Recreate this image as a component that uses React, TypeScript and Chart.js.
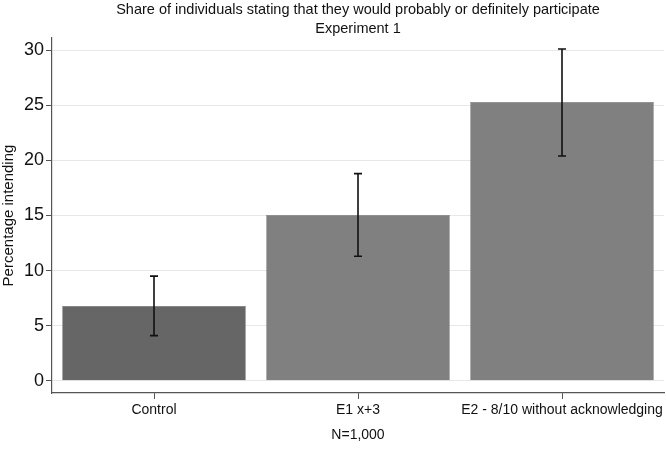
import React, { useEffect, useRef } from "react";
import { Chart, registerables } from "chart.js";
Chart.register(...registerables);

const categories = ["Control", "E1 x+3", "E2 - 8/10 without acknowledging"];
const values = [6.8, 15.05, 25.3];
const lowerCI = [4.1, 11.3, 20.4];
const upperCI = [9.5, 18.8, 30.1];
const barColors = ["#666666", "#808080", "#808080"];
const yTicks = [0, 5, 10, 15, 20, 25, 30];
const titleLines = ["Share of individuals stating that they would probably or definitely participate", "Experiment 1"];
const noteText = "N=1,000";

const FONT = "'Liberation Sans', Arial, sans-serif";

const overlayPlugin = {
  id: "overlay",
  afterDatasetsDraw(chart: any) {
    const { ctx, chartArea, scales } = chart;
    const x = scales.x;
    const y = scales.y;
    ctx.save();
    ctx.strokeStyle = "#111111";
    ctx.lineWidth = 1.6;
    for (let i = 0; i < values.length; i++) {
      const cx = x.getPixelForValue(i);
      const yl = y.getPixelForValue(lowerCI[i]);
      const yu = y.getPixelForValue(upperCI[i]);
      ctx.beginPath();
      ctx.moveTo(cx, yl);
      ctx.lineTo(cx, yu);
      ctx.moveTo(cx - 4, yl);
      ctx.lineTo(cx + 4, yl);
      ctx.moveTo(cx - 4, yu);
      ctx.lineTo(cx + 4, yu);
      ctx.stroke();
    }
    const mid = (chartArea.left + chartArea.right) / 2;
    ctx.fillStyle = "#111111";
    ctx.textAlign = "center";
    ctx.textBaseline = "middle";
    ctx.font = `14.5px ${FONT}`;
    ctx.fillText(titleLines[0], mid, 10);
    ctx.fillText(titleLines[1], mid, 29);
    ctx.font = `14px ${FONT}`;
    ctx.fillText(noteText, mid, 435);
    ctx.restore();
  },
};

export default function App() {
  const ref = useRef<HTMLCanvasElement>(null);
  useEffect(() => {
    if (!ref.current) return;
    const chart = new Chart(ref.current, {
      type: "bar",
      data: {
        labels: categories,
        datasets: [
          {
            data: values,
            backgroundColor: barColors,
            borderColor: "#5a5a5a",
            borderWidth: 0.5,
            barPercentage: 0.9,
            categoryPercentage: 1,
          },
        ],
      },
      options: {
        animation: false,
        responsive: false,
        maintainAspectRatio: false,
        layout: { padding: { top: 38, right: 2, left: 0, bottom: 0 } },
        plugins: { legend: { display: false }, tooltip: { enabled: false }, title: { display: false } },
        scales: {
          x: {
            grid: { drawOnChartArea: false, offset: false, tickLength: 6, tickColor: "#555555" },
            border: { color: "#555555", width: 1.2 },
            ticks: { color: "#111111", font: { family: FONT, size: 14 }, padding: 3, maxRotation: 0, autoSkip: false },
            afterFit: (s: any) => { s.height = 58; s.paddingRight = 0; s.paddingLeft = 0; },
          },
          y: {
            min: -1.1,
            max: 31.1,
            afterBuildTicks: (s: any) => { s.ticks = yTicks.map((v) => ({ value: v })); },
            grid: { color: "#e8e8e8", tickLength: 6, tickColor: "#555555" },
            border: { color: "#555555", width: 1.2 },
            ticks: { color: "#111111", font: { family: FONT, size: 18 }, padding: 2 },
            title: { display: true, text: "Percentage intending", color: "#111111", font: { family: FONT, size: 15 }, padding: 0 },
            afterFit: (s: any) => { s.width = 52; },
          },
        },
      },
      plugins: [overlayPlugin],
    });
    return () => chart.destroy();
  }, []);
  return (
    <div style={{ position: "fixed", left: 0, top: 0, width: 666, height: 451, background: "#fff" }}>
      <canvas ref={ref} width={666} height={451} />
    </div>
  );
}
